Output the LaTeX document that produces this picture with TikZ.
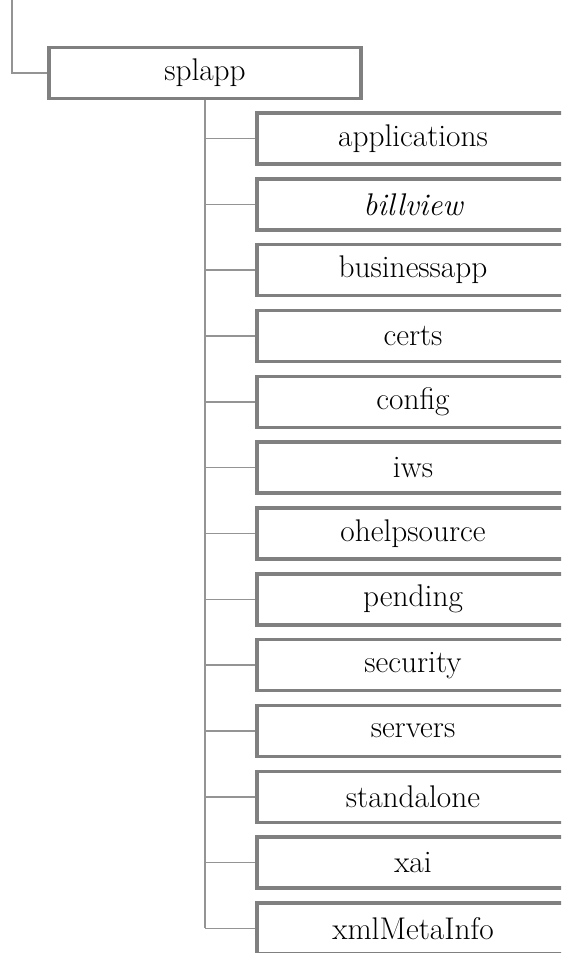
\documentclass[tikz,border=0pt]{standalone}
\begin{document}
\begin{tikzpicture}[x=0.75pt,y=-0.75pt,
  folder/.style={draw=black!50, line width=2.6pt, fill=white, rectangle,
    minimum width=234pt, minimum height=38.25pt, inner sep=0pt,
    font=\fontsize{23.5}{28}\selectfont},
  link/.style={draw=black!42, line width=1.1pt}]
\useasboundingbox (0,0) rectangle (561,953);
\clip (0,0) rectangle (561,953);
\coordinate (top) at (12,0);
\node[folder] (root) at (205,73) {splapp};
\foreach \n/\t [count=\i from 0] in {c1/applications, c2/{\itshape billview}, c3/businessapp, c4/certs, c5/config, c6/iws, c7/ohelpsource, c8/pending, c9/security, c10/servers, c11/standalone, c12/xai, c13/xmlMetaInfo}{
  \node[folder] (\n) at (413,{138.5+65.83*\i}) {\t};
}
\draw[link] (top) |- (root.west);
\draw[link] (root.south) -- (root.south |- c13.west);
\foreach \n in {c1,c2,c3,c4,c5,c6,c7,c8,c9,c10,c11,c12,c13}{
  \draw[link] (root.south |- \n.west) -- (\n.west);
}
\end{tikzpicture}
\end{document}
